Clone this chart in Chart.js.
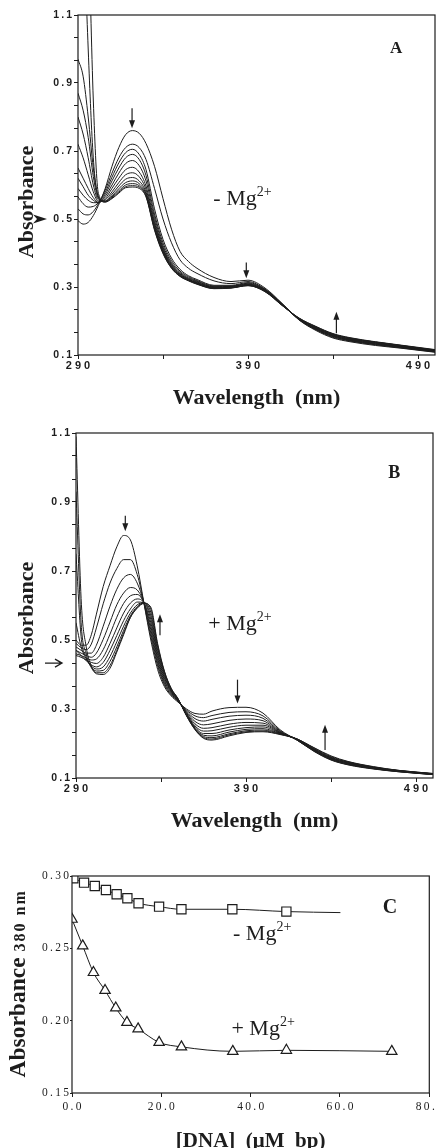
<!DOCTYPE html>
<html>
<head>
<meta charset="utf-8">
<script src="https://cdn.jsdelivr.net/npm/chart.js@4.4.1/dist/chart.umd.min.js"></script>
<style>
  html, body { margin: 0; padding: 0; background: #fff; overflow: hidden; }
  body { width: 437px; height: 1148px; position: relative; }
  canvas { position: absolute; left: 0; }
</style>
</head>
<body>
<canvas id="panelA" width="437" height="412" style="top:0"></canvas>
<canvas id="panelB" width="437" height="423" style="top:412px"></canvas>
<canvas id="panelC" width="437" height="318" style="top:836px"></canvas>
<script>
const INK = '#1d1d1d';
const SERIF = '"Liberation Serif", "Times New Roman", serif';
const SANS = '"Liberation Sans", Arial, sans-serif';
const THIN = '\u2009';

// Panel A: spectra without Mg2+ (curve 0 = no DNA ... curve 11 = most DNA)
const wavelengthA = [290, 293, 296, 299, 302, 306, 310, 314, 318, 322, 326, 330, 335, 340, 345, 350, 355, 360, 370, 380, 390, 400, 410, 420, 430, 440, 450, 465, 480, 500];
const minusMg0 = [.495, .485, .49, .51, .54, .59, .655, .71, .748, .76, .752, .722, .655, .56, .47, .405, .375, .355, .328, .316, .32, .297, .252, .203, .172, .15, .139, .128, .12, .108];
const minusMg1 = [.53, .515, .512, .522, .545, .585, .635, .68, .71, .72, .71, .675, .59, .50, .43, .38, .355, .34, .318, .31, .316, .294, .251, .204, .174, .152, .141, .13, .121, .109];
const minusMg2 = [.565, .545, .535, .537, .548, .578, .623, .665, .695, .705, .69, .645, .53, .44, .385, .352, .333, .322, .305, .305, .313, .293, .25, .204, .175, .154, .142, .131, .122, .11];
const minusMg3 = [.59, .57, .555, .548, .548, .572, .612, .65, .68, .69, .675, .628, .515, .43, .378, .347, .33, .319, .303, .303, .311, .292, .25, .205, .176, .155, .143, .132, .123, .11];
const minusMg4 = [.62, .595, .57, .555, .548, .566, .60, .635, .663, .672, .657, .612, .505, .422, .372, .343, .327, .317, .301, .302, .309, .291, .249, .205, .177, .156, .144, .133, .124, .111];
const minusMg5 = [.65, .62, .59, .563, .549, .56, .59, .62, .645, .652, .638, .597, .495, .416, .368, .34, .325, .315, .30, .301, .308, .29, .249, .206, .178, .157, .145, .134, .125, .112];
const minusMg6 = [.72, .68, .63, .58, .552, .556, .58, .607, .63, .636, .624, .587, .488, .412, .365, .338, .323, .313, .299, .30, .307, .289, .248, .206, .179, .158, .146, .135, .125, .112];
const minusMg7 = [.80, .75, .68, .60, .556, .553, .573, .597, .617, .622, .612, .579, .482, .408, .362, .336, .322, .312, .298, .299, .306, .288, .248, .207, .18, .159, .147, .136, .126, .113];
const minusMg8 = [.87, .82, .74, .625, .56, .552, .568, .589, .607, .612, .604, .574, .477, .405, .36, .334, .321, .311, .297, .298, .305, .288, .247, .207, .181, .16, .148, .137, .127, .114];
const minusMg9 = [.97, .92, .80, .65, .565, .551, .565, .583, .60, .604, .598, .57, .473, .402, .358, .333, .32, .31, .296, .298, .305, .287, .247, .208, .182, .161, .149, .138, .128, .114];
const minusMg10 = [2.2, 1.45, 1.0, .68, .565, .55, .562, .579, .595, .598, .594, .567, .47, .40, .356, .332, .319, .309, .296, .297, .304, .287, .246, .208, .183, .162, .15, .138, .128, .115];
const minusMg11 = [2.6, 1.9, 1.4, .85, .575, .55, .56, .576, .592, .594, .59, .565, .467, .398, .355, .331, .318, .308, .295, .297, .304, .286, .246, .209, .184, .163, .151, .139, .129, .116];
const minusMgCurves = [minusMg0, minusMg1, minusMg2, minusMg3, minusMg4, minusMg5, minusMg6, minusMg7, minusMg8, minusMg9, minusMg10, minusMg11];

// Panel B: spectra with Mg2+
const wavelengthB = [290, 293, 296, 299, 302, 306, 310, 314, 318, 322, 326, 330, 334, 338, 342, 346, 350, 355, 360, 365, 370, 380, 390, 400, 410, 420, 430, 440, 450, 465, 480, 500];
const plusMg0 = [.50, .485, .485, .515, .575, .655, .715, .77, .803, .79, .715, .606, .50, .415, .365, .338, .32, .30, .287, .285, .294, .304, .305, .288, .24, .21, .177, .152, .138, .126, .118, .11];
const plusMg1 = [.49, .478, .472, .488, .535, .605, .665, .707, .733, .733, .69, .606, .51, .425, .37, .341, .322, .297, .28, .275, .281, .29, .292, .28, .237, .21, .178, .153, .139, .127, .118, .11];
const plusMg2 = [.48, .47, .462, .462, .485, .54, .598, .647, .68, .69, .665, .607, .52, .432, .375, .344, .323, .294, .272, .265, .27, .279, .282, .273, .235, .21, .179, .154, .14, .127, .119, .11];
const plusMg3 = [.47, .462, .455, .45, .462, .502, .552, .602, .636, .652, .645, .607, .53, .44, .38, .347, .324, .291, .264, .254, .257, .267, .271, .266, .233, .211, .18, .155, .141, .128, .119, .111];
const plusMg4 = [.46, .455, .448, .442, .445, .472, .517, .566, .606, .628, .632, .607, .54, .447, .385, .35, .325, .288, .257, .244, .246, .256, .261, .259, .232, .211, .181, .156, .142, .129, .12, .111];
const plusMg5 = [.455, .45, .442, .435, .432, .45, .49, .535, .578, .607, .619, .607, .55, .455, .39, .352, .326, .286, .251, .236, .237, .247, .253, .253, .231, .212, .182, .157, .143, .13, .12, .111];
const plusMg6 = [.47, .455, .44, .428, .422, .435, .47, .513, .556, .59, .61, .608, .56, .462, .395, .354, .327, .284, .247, .229, .229, .239, .246, .248, .23, .212, .183, .158, .144, .13, .121, .112];
const plusMg7 = [.55, .48, .445, .425, .416, .422, .452, .495, .54, .578, .602, .608, .57, .47, .40, .356, .328, .283, .244, .224, .222, .233, .241, .243, .229, .213, .184, .159, .145, .131, .121, .112];
const plusMg8 = [.75, .51, .45, .422, .41, .412, .438, .48, .528, .57, .597, .608, .58, .478, .405, .358, .329, .282, .242, .22, .217, .228, .237, .239, .228, .213, .185, .16, .146, .131, .121, .112];
const plusMg9 = [.93, .55, .46, .42, .405, .405, .426, .47, .52, .566, .594, .607, .59, .485, .408, .359, .33, .281, .241, .217, .213, .225, .234, .236, .227, .213, .187, .162, .147, .132, .122, .113];
const plusMg10 = [1.09, .62, .48, .425, .402, .40, .418, .465, .515, .565, .592, .606, .595, .49, .41, .36, .33, .28, .24, .215, .21, .222, .232, .234, .226, .213, .188, .164, .148, .133, .122, .113];
const plusMgCurves = [plusMg0, plusMg1, plusMg2, plusMg3, plusMg4, plusMg5, plusMg6, plusMg7, plusMg8, plusMg9, plusMg10];

const wavelengthTicks = [290, 390, 490];
const absorbanceTicks = [0.1, 0.3, 0.5, 0.7, 0.9, 1.1];

// Panel C: absorbance at 380 nm vs DNA
const dnaMinusMg = [0.3, 2.7, 5.1, 7.6, 10.0, 12.4, 14.9, 19.5, 24.5, 35.9, 48.0];
const abs380MinusMg = [0.2984, 0.2954, 0.2931, 0.2903, 0.2874, 0.2846, 0.2812, 0.2788, 0.2770, 0.2770, 0.2754];
const minusMgLineEnd = {x: 60.1, y: 0.2747};
const dnaPlusMg = [0.0, 2.4, 4.8, 7.4, 9.8, 12.3, 14.8, 19.5, 24.5, 36.0, 48.0, 71.6];
const abs380PlusMg = [0.2701, 0.2517, 0.2333, 0.2209, 0.2088, 0.1988, 0.1943, 0.1850, 0.1819, 0.1788, 0.1795, 0.1788];
const dnaTicks = [0, 20, 40, 60, 80];
const abs380Ticks = [0.15, 0.20, 0.25, 0.30];

const spaced = (s, sep) => s.split('').join(sep);

// majors plus evenly spaced unlabeled ticks between them
function withMinor(majors, parts) {
    const out = [];
    majors.forEach((v, i) => {
        out.push({value: v});
        if (i < majors.length - 1) {
            const step = (majors[i + 1] - v) / parts;
            for (let k = 1; k < parts; k++) out.push({value: v + step * k, minor: true});
        }
    });
    return out;
}

function fixSize(size) {
    return function (scale) {
        if (scale.isHorizontal()) scale.height = size; else scale.width = size;
        scale.paddingLeft = scale.paddingRight = scale.paddingTop = scale.paddingBottom = 0;
    };
}

// frame, arrows and text labels drawn on top of each panel
const panelMarks = {
    id: 'panelMarks',
    afterDraw(chart, args, opts) {
        const {ctx, chartArea: area} = chart;
        const xs = chart.scales.x, ys = chart.scales.y;
        ctx.save();
        ctx.strokeStyle = INK;
        ctx.fillStyle = INK;
        ctx.lineWidth = 1.2;
        ctx.strokeRect(area.left, area.top, area.right - area.left, area.bottom - area.top);

        (opts.arrows || []).forEach(a => {
            const x = xs.getPixelForValue(a.x);
            const y0 = ys.getPixelForValue(a.from);
            const y1 = ys.getPixelForValue(a.to);
            const dir = Math.sign(y1 - y0);
            ctx.lineWidth = 1.2;
            ctx.beginPath();
            ctx.moveTo(x, y0);
            ctx.lineTo(x, y1 - dir * 6);
            ctx.stroke();
            ctx.beginPath();
            ctx.moveTo(x, y1);
            ctx.lineTo(x - 3, y1 - dir * 8);
            ctx.lineTo(x + 3, y1 - dir * 8);
            ctx.closePath();
            ctx.fill();
        });

        const s = opts.sideArrow;
        if (s) {
            const y = ys.getPixelForValue(s.y);
            const x0 = area.left + s.from, x1 = area.left + s.to;
            ctx.beginPath();
            if (s.open) {
                ctx.lineWidth = 1.3;
                ctx.moveTo(x0, y);
                ctx.lineTo(x1, y);
                ctx.moveTo(x1 - 7, y - 4);
                ctx.lineTo(x1, y);
                ctx.lineTo(x1 - 7, y + 4);
                ctx.stroke();
            } else {
                ctx.moveTo(x1, y);
                ctx.lineTo(x0, y - 4.5);
                ctx.lineTo(x0 + 4, y);
                ctx.lineTo(x0, y + 4.5);
                ctx.closePath();
                ctx.fill();
            }
        }

        (opts.texts || []).forEach(t => {
            const px = t.dx !== undefined ? area.left + t.dx : xs.getPixelForValue(t.x);
            const py = ys.getPixelForValue(t.y);
            ctx.save();
            ctx.translate(px, py);
            if (t.rotate) ctx.rotate(-Math.PI / 2);
            ctx.textBaseline = 'alphabetic';
            ctx.textAlign = 'left';
            const widths = t.parts.map(p => {
                ctx.font = p.font;
                ctx.letterSpacing = p.spacing || '0px';
                return ctx.measureText(p.text).width;
            });
            let cx = t.align === 'center' ? -widths.reduce((a, b) => a + b, 0) / 2 : 0;
            t.parts.forEach((p, i) => {
                ctx.font = p.font;
                ctx.letterSpacing = p.spacing || '0px';
                ctx.fillText(p.text, cx, -(p.rise || 0));
                cx += widths[i];
            });
            ctx.restore();
        });
        ctx.restore();
    }
};

const tickGrid = {drawOnChartArea: false, drawTicks: true, tickLength: 4, color: INK, tickWidth: 1};

function spectrumChart(id, wavelengths, curves, padTop, padRight, axisWidth, axisHeight, marks) {
    return new Chart(document.getElementById(id), {
        type: 'line',
        data: {
            datasets: curves.map(curve => ({
                data: curve.map((a, i) => ({x: wavelengths[i], y: a})),
                borderColor: INK,
                borderWidth: 1,
                pointRadius: 0,
                fill: false,
                cubicInterpolationMode: 'monotone'
            }))
        },
        options: {
            responsive: false,
            animation: false,
            events: [],
            layout: {padding: {top: padTop, right: padRight, left: 0, bottom: 0}},
            plugins: {legend: {display: false}, tooltip: {enabled: false}, panelMarks: marks},
            scales: {
                x: {
                    type: 'linear', min: 290, max: 500,
                    afterBuildTicks: scale => { scale.ticks = withMinor(wavelengthTicks, 2); },
                    afterFit: fixSize(axisHeight),
                    grid: tickGrid,
                    border: {display: false},
                    ticks: {
                        autoSkip: false, maxRotation: 0, padding: 0, color: INK,
                        font: {family: SANS, size: 11, weight: 'bold'},
                        callback: (v, i, ticks) => ticks[i].minor ? '' : spaced(String(v), ' ')
                    },
                    title: {
                        display: true, text: 'Wavelength  (nm)', color: INK, padding: 0,
                        font: {family: SERIF, size: 22, weight: 'bold'}
                    }
                },
                y: {
                    min: 0.1, max: 1.1,
                    afterBuildTicks: scale => { scale.ticks = withMinor(absorbanceTicks, 3); },
                    afterFit: fixSize(axisWidth),
                    grid: tickGrid,
                    border: {display: false},
                    ticks: {
                        autoSkip: false, padding: 2, color: INK,
                        font: {family: SANS, size: 10.5, weight: 'bold'},
                        callback: (v, i, ticks) => ticks[i].minor ? '' : spaced(v.toFixed(1), THIN)
                    }
                }
            }
        },
        plugins: [panelMarks]
    });
}

const mgLabel = (sign, size) => [
    {text: sign + ' Mg', font: size + 'px ' + SERIF},
    {text: '2+', font: Math.round(size * 0.64) + 'px ' + SERIF, rise: 9}
];

spectrumChart('panelA', wavelengthA, minusMgCurves, 15, 2, 78, 57, {
    arrows: [{x: 321.8, from: 0.826, to: 0.767}, {x: 389, from: 0.372, to: 0.326}, {x: 442, from: 0.164, to: 0.227}],
    sideArrow: {y: 0.5, from: -45, to: -31},
    texts: [
        {parts: [{text: 'A', font: 'bold 17px ' + SERIF}], x: 473.5, y: 0.989},
        {parts: mgLabel('-', 22), x: 369.6, y: 0.541},
        {parts: [{text: 'Absorbance', font: 'bold 22px ' + SERIF}], dx: -45, y: 0.55, rotate: true, align: 'center'}
    ]
});

spectrumChart('panelB', wavelengthB, plusMgCurves, 21, 4, 76, 57, {
    arrows: [{x: 319, from: 0.86, to: 0.815}, {x: 339.4, from: 0.514, to: 0.575}, {x: 385, from: 0.385, to: 0.316}, {x: 436.5, from: 0.181, to: 0.254}],
    sideArrow: {y: 0.433, from: -31, to: -14, open: true},
    texts: [
        {parts: [{text: 'B', font: 'bold 18px ' + SERIF}], x: 473.7, y: 0.969},
        {parts: mgLabel('+', 22), x: 367.8, y: 0.529},
        {parts: [{text: 'Absorbance', font: 'bold 22px ' + SERIF}], dx: -43, y: 0.564, rotate: true, align: 'center'}
    ]
});

const markerStyle = {
    borderColor: INK, borderWidth: 1, fill: false, cubicInterpolationMode: 'monotone',
    pointBackgroundColor: '#fff', pointBorderColor: INK, pointBorderWidth: 1.2
};

new Chart(document.getElementById('panelC'), {
    type: 'line',
    data: {
        datasets: [
            Object.assign({
                data: dnaMinusMg.map((c, i) => ({x: c, y: abs380MinusMg[i]})).concat([minusMgLineEnd]),
                pointStyle: 'rect',
                pointRadius: ctx => ctx.dataIndex < dnaMinusMg.length ? 6.5 : 0
            }, markerStyle),
            Object.assign({
                data: dnaPlusMg.map((c, i) => ({x: c, y: abs380PlusMg[i]})),
                pointStyle: 'triangle',
                pointRadius: 6
            }, markerStyle)
        ]
    },
    options: {
        responsive: false,
        animation: false,
        events: [],
        layout: {padding: {top: 40, right: 7, left: 0, bottom: 0}},
        plugins: {
            legend: {display: false},
            tooltip: {enabled: false},
            panelMarks: {
                texts: [
                    {parts: [{text: 'C', font: 'bold 20px ' + SERIF}], x: 69.6, y: 0.2747},
                    {parts: mgLabel('-', 22), x: 36.05, y: 0.2559},
                    {parts: mgLabel('+', 22), x: 35.7, y: 0.1903},
                    {parts: [{text: 'Absorbance', font: 'bold 23.5px ' + SERIF}, {text: ' 380 nm', font: 'bold 16px ' + SERIF, spacing: '2px'}],
                        dx: -47, y: 0.1607, rotate: true}
                ]
            }
        },
        scales: {
            x: {
                type: 'linear', min: 0, max: 80,
                afterBuildTicks: scale => { scale.ticks = dnaTicks.map(v => ({value: v})); },
                afterFit: fixSize(61),
                grid: tickGrid,
                border: {display: false},
                ticks: {
                    autoSkip: false, maxRotation: 0, padding: 3, color: INK,
                    font: {family: SERIF, size: 11.5},
                    callback: v => spaced(v.toFixed(1), THIN)
                },
                title: {
                    display: true, text: '[DNA]  (\u03bcM  bp)', color: INK, padding: 0,
                    font: {family: SERIF, size: 21, weight: 'bold'}
                }
            },
            y: {
                min: 0.15, max: 0.30,
                afterBuildTicks: scale => { scale.ticks = abs380Ticks.map(v => ({value: v})); },
                afterFit: fixSize(72),
                grid: Object.assign({}, tickGrid, {tickLength: 2}),
                border: {display: false},
                ticks: {
                    autoSkip: false, padding: 1, color: INK,
                    font: {family: SERIF, size: 11.5},
                    callback: v => spaced(v.toFixed(2), THIN)
                }
            }
        }
    },
    plugins: [panelMarks]
});
</script>
</body>
</html>
